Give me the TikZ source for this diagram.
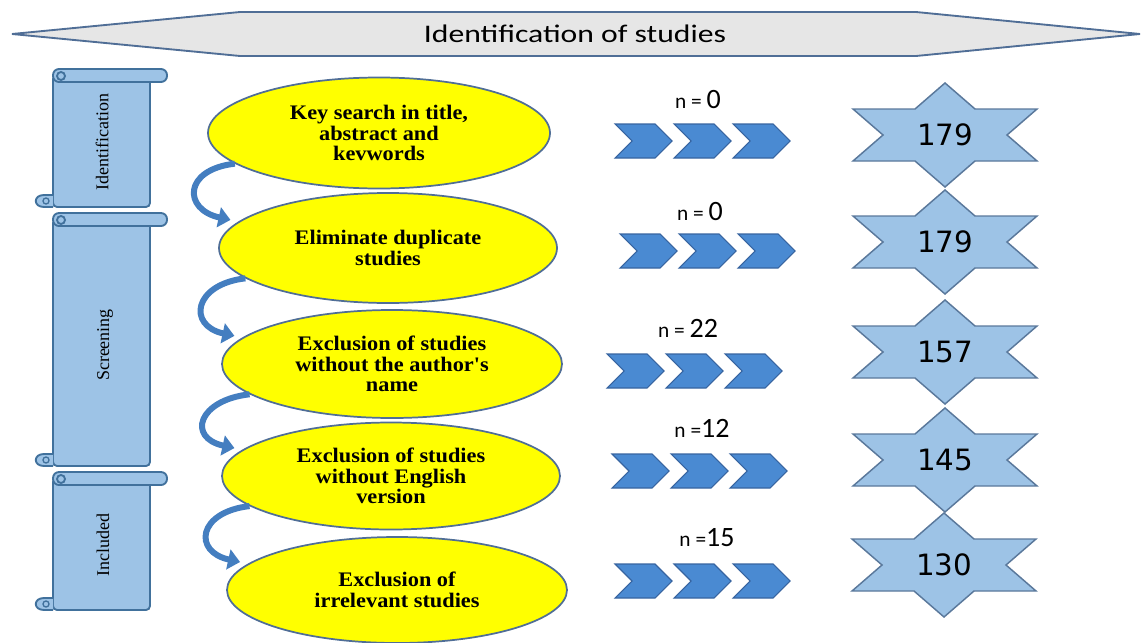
\documentclass[tikz,border=0pt]{standalone}
\usepackage{fontspec}
\setmainfont{Liberation Serif}
\newfontfamily\calfont{Carlito}
\newfontfamily\dejafont{DejaVu Sans}
\newfontfamily\ellfont[FakeStretch=1.08]{Liberation Serif}
\usetikzlibrary{shapes.geometric,arrows.meta,calc}
\definecolor{ellfill}{RGB}{255,255,0}
\definecolor{ellline}{RGB}{80,110,150}
\definecolor{scrollfill}{RGB}{157,195,230}
\definecolor{scrollline}{RGB}{65,113,156}
\definecolor{chevfill}{RGB}{74,138,210}
\definecolor{chevline}{RGB}{55,100,160}
\definecolor{starfill}{RGB}{157,195,230}
\definecolor{starline}{RGB}{90,120,155}
\definecolor{arrowblue}{RGB}{68,126,192}
\definecolor{bannerfill}{RGB}{230,230,230}
\definecolor{bannerline}{RGB}{80,110,150}
\tikzset{
  ell/.style={ellipse, draw=ellline, fill=ellfill, line width=1.3pt, inner sep=0pt,
    align=center, font=\ellfont\bfseries\fontsize{15.5}{15.5}\selectfont},
  ellsize/.style 2 args={minimum width=#1*0.75pt, minimum height=#2*0.75pt},
  scrollst/.style={draw=scrollline, fill=scrollfill, line width=1.4pt},
  sidelabel/.style={rotate=90, font=\fontsize{13.5}{15}\selectfont, inner sep=0pt},
  chev/.style={draw=chevline, fill=chevfill, line width=0.8pt, line join=miter},
  starst/.style={draw=starline, fill=starfill, line width=1.1pt, line join=miter},
  num/.style={font=\dejafont\fontsize{22}{24}\selectfont, inner sep=0pt},
  nlab/.style={inner sep=0pt},
  curv/.style={draw=arrowblue, line width=4.5pt, shorten >=6pt,
    -{Triangle[width=15pt,length=9pt]}},
  pics/chevrons/.style={code={
    \foreach \i in {0,1,2}{
      \draw[chev] (\i*59,-17) -- ++(40,0) -- ++(17,17) -- ++(-17,17) -- ++(-40,0) -- ++(17,-17) -- cycle;
    }}},
  pics/sixstar/.style={code={
    \draw[starst] (0,-52) -- (30,-26) -- (92,-26) -- (62,0) -- (92,26) -- (30,26) -- (0,52)
      -- (-30,26) -- (-92,26) -- (-62,0) -- (-92,-26) -- (-30,-26) -- cycle;
    }}
}
\newcommand\drawscroll[2]{%
  \draw[scrollst, rounded corners=3pt] (53,#1+6) rectangle (150,#2);
  \draw[scrollst, rounded corners=4.5pt] (53,#1) rectangle (167,#1+13);
  \draw[scrollst] (61,#1+7) circle[radius=4];
  \draw[scrollst] (53,#2-12) -- (44,#2-12) .. controls (33,#2-12) and (33,#2) .. (44,#2) -- (53,#2);
  \draw[draw=scrollline, line width=1pt] (46,#2-6) circle[radius=3];
}
\newcommand\nval[2]{{\calfont\fontsize{16}{16}\selectfont n #1}{\calfont\fontsize{21}{21}\selectfont #2}}
\begin{document}
\begin{tikzpicture}[x=0.75pt,y=-0.75pt]
\useasboundingbox (0,0) rectangle (1144,642);
% banner
\draw[draw=bannerline, fill=bannerfill, line width=1.4pt]
  (12,34) -- (240,12) -- (916,12) -- (1140,34) -- (916,56) -- (240,56) -- cycle;
\node[inner sep=0pt] (title) at (575,34)
  {\scalebox{1.25}[1]{\calfont\fontsize{19}{19}\selectfont Identification of studies}};
% scrolls
\drawscroll{69}{207}
\drawscroll{213}{466}
\drawscroll{472}{610}
\node[sidelabel] (lab1) at (102,142) {Identification};
\node[sidelabel] (lab2) at (105,345) {Screening};
\node[sidelabel] (lab3) at (103,545) {Included};
% ellipses
\node[ell, ellsize={342}{111}] (e1) at (379,133) {Key search in title,\\abstract and\\kevwords};
\node[ell, ellsize={338}{110}] (e2) at (388,248) {Eliminate duplicate\\studies};
\node[ell, ellsize={340}{108}] (e3) at (392,364) {Exclusion of studies\\without the author's\\name};
\node[ell, ellsize={338}{107}] (e4) at (391,476) {Exclusion of studies\\without English\\version};
\node[ell, ellsize={340}{106}] (e5) at (397,590) {Exclusion of\\irrelevant studies};
% curved arrows
\draw[curv] (e1.192) .. controls +(-52,6) and +(-55,-12) .. (e2.170);
\draw[curv] (e2.192) .. controls +(-52,6) and +(-55,-12) .. (e3.170);
\draw[curv] (e3.192) .. controls +(-52,6) and +(-55,-12) .. (e4.170);
\draw[curv] (e4.192) .. controls +(-52,6) and +(-55,-12) .. (e5.170);
% chevrons
\pic at (615,141) {chevrons};
\pic at (620,251) {chevrons};
\pic at (607,371) {chevrons};
\pic at (612,471) {chevrons};
\pic at (615,581) {chevrons};
% n labels
\node[nlab] (n1) at (698,100) {\nval{= }{0}};
\node[nlab] (n2) at (700,212) {\nval{= }{0}};
\node[nlab] (n3) at (688,328) {\nval{= }{22}};
\node[nlab] (n4) at (702,428) {\nval{=}{12}};
\node[nlab] (n5) at (707,538) {\nval{=}{15}};
% stars
\pic at (945,135) {sixstar};
\pic at (945,242) {sixstar};
\pic at (945,352) {sixstar};
\pic at (945,460) {sixstar};
\pic at (944,565) {sixstar};
\node[num] (s1) at (945,135) {179};
\node[num] (s2) at (945,242) {179};
\node[num] (s3) at (945,352) {157};
\node[num] (s4) at (945,460) {145};
\node[num] (s5) at (944,565) {130};
\end{tikzpicture}
\end{document}
